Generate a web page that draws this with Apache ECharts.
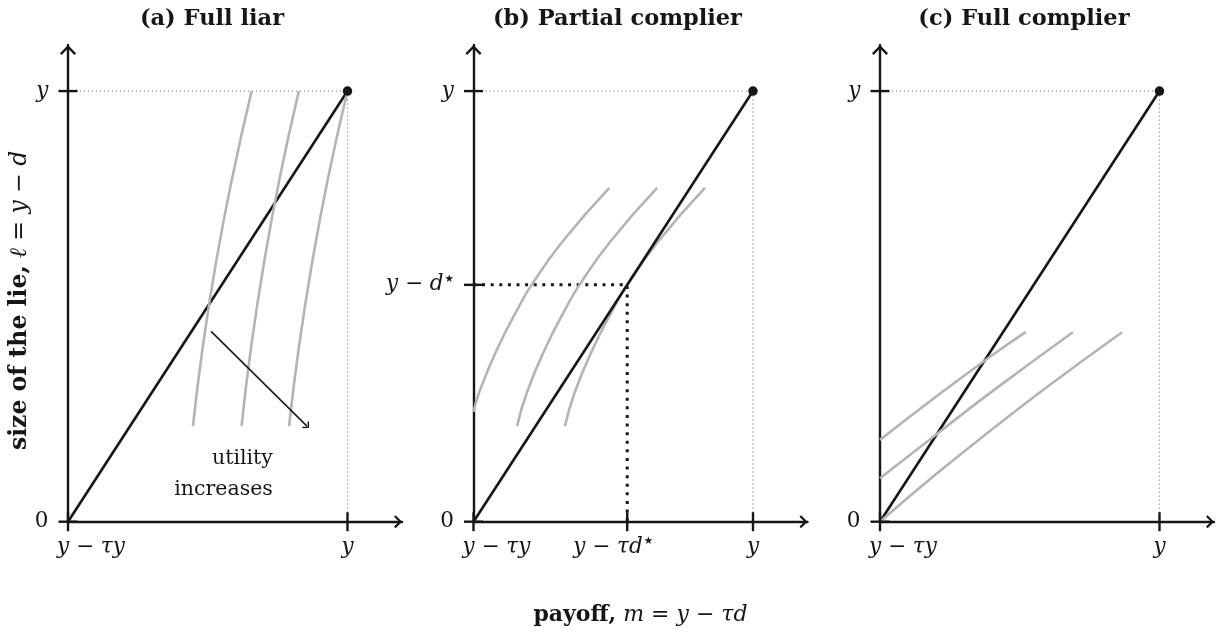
<!DOCTYPE html>
<html>
<head>
<meta charset="utf-8">
<script src="https://cdn.jsdelivr.net/npm/echarts@6/dist/echarts.min.js"></script>
<style>
  html, body { margin: 0; padding: 0; background: #fff; }
  #chart { width: 1221px; height: 633px; }
</style>
</head>
<body>
<div id="chart"></div>
<script>
// Payoff m on the x axis (0 = y − τy, 1 = y); size of the lie ℓ on the y axis (0 … y)
const panelTitles = ['(a) Full liar', '(b) Partial complier', '(c) Full complier'];

// Budget line: every unit of lie moves payoff one-for-one, ending at full report point (y, y)
const budgetLine = [[0, 0], [1, 1]];
const endowment = [1, 1];

// Indifference curves, [payoff, lie] pairs
const liarCurves = [
  [[0.447, 0.222], [0.481, 0.4], [0.529, 0.6], [0.588, 0.8], [0.657, 1.0]],
  [[0.621, 0.222], [0.654, 0.4], [0.701, 0.6], [0.758, 0.8], [0.826, 1.0]],
  [[0.791, 0.222], [0.825, 0.4], [0.873, 0.6], [0.931, 0.8], [1.0, 1.0]]
];
const partialCurves = [
  [[0, 0.255], [0.020, 0.3], [0.084, 0.4], [0.163, 0.5], [0.208, 0.55], [0.318, 0.65], [0.486, 0.775]],
  [[0.156, 0.222], [0.191, 0.3], [0.255, 0.4], [0.334, 0.5], [0.379, 0.55], [0.489, 0.65], [0.657, 0.775]],
  [[0.327, 0.222], [0.362, 0.3], [0.426, 0.4], [0.505, 0.5], [0.550, 0.55], [0.660, 0.65], [0.828, 0.775]]
];
const complierCurves = [
  [[0, 0.190], [0.2, 0.290], [0.4, 0.386], [0.522, 0.441]],
  [[0, 0.101], [0.2, 0.202], [0.4, 0.302], [0.69, 0.440]],
  [[0, 0.0], [0.2, 0.110], [0.4, 0.214], [0.6, 0.314], [0.866, 0.440]]
];
const panelCurves = [liarCurves, partialCurves, complierCurves];

// Interior optimum of the partial complier (y − τd⋆, y − d⋆)
const optimum = [0.55, 0.55];

// "utility increases" direction arrow in panel (a)
const utilityArrow = [[0.512, 0.442], [0.855, 0.222]];
const utilityNote = { pos: [0.733, 0.11], lines: ['utility', 'increases'] };

// Axis ticks and their labels, per panel
const payoffTicks = [[0, 1], [0, 0.55, 1], [0, 1]];
const payoffTickLabels = [['y − τy', 'y'], ['y − τy', 'y − τd⋆', 'y'], ['y − τy', 'y']];
const lieTicks = [[0, 1], [0, 0.55, 1], [0, 1]];
const lieTickLabels = [['0', 'y'], ['0', 'y − d⋆', 'y'], ['0', 'y']];

const xAxisName = '{b|payoff,} {i|m} = {i|y} − {i|τd}';
const yAxisName = '{b|size of the lie,} {i|ℓ} = {i|y} − {i|d}';

// ---- layout & style ----
const X_MAX = 1.195, Y_MAX = 1.107;
const gridLefts = [68, 473.5, 880];
const GRID_TOP = 45, GRID_W = 334, GRID_H = 476.7;
const INK = '#161616', GREY = '#b4b4b4', GUIDE = '#8a8a8a';
const SERIF = 'DejaVu Serif';
const MATH_SIZE = 21.5;

const arrowX = 'path://M6.5 0L13 6.4L11.4 8L6.5 3L1.6 8L0 6.4Z';
const arrowY = 'path://M8 0L16 8.2L14.4 10L8 3.4L1.6 10L0 8.2Z';
const arrowSmall = 'path://M4.5 0L9 4.3L8 5.3L4.5 1.8L1 5.3L0 4.3Z';

const mathRich = {
  i: { fontFamily: SERIF, fontStyle: 'italic', fontSize: MATH_SIZE, color: INK },
  r: { fontFamily: SERIF, fontSize: MATH_SIZE, color: INK },
  s: { fontFamily: 'DejaVu Sans', fontSize: 10.5, color: INK, verticalAlign: 'top', padding: [0, 0, 9, 1] }
};
function tickText(t) {
  if (/^[0-9]+$/.test(t)) return '{r|' + t + '}';
  if (t.indexOf('⋆') >= 0) return '{i|' + t.replace('⋆', '') + '}{s|★}';
  return '{i|' + t + '}';
}

const grids = [], xAxes = [], yAxes = [], series = [], graphics = [];

gridLefts.forEach(function (left, p) {
  grids.push({ left: left, top: GRID_TOP, width: GRID_W, height: GRID_H });
  xAxes.push({
    type: 'value', gridIndex: p, min: 0, max: X_MAX,
    axisLine: { show: true, onZero: false, symbol: ['none', arrowX], symbolSize: [13, 8], symbolOffset: [0, -4],
      lineStyle: { color: INK, width: 2.4 } },
    axisTick: { show: false }, axisLabel: { show: false }, splitLine: { show: false },
    name: p === 1 ? xAxisName : '', nameLocation: 'middle', nameGap: 83,
    nameTextStyle: { fontFamily: SERIF, fontSize: 22, color: INK,
      rich: { b: { fontFamily: SERIF, fontWeight: 'bold', fontSize: 22, color: INK },
              i: { fontFamily: SERIF, fontStyle: 'italic', fontSize: 22, color: INK } } }
  });
  yAxes.push({
    type: 'value', gridIndex: p, min: 0, max: Y_MAX,
    axisLine: { show: true, onZero: false, symbol: ['none', arrowY], symbolSize: [16, 10], symbolOffset: [0, -5],
      lineStyle: { color: INK, width: 2.4 } },
    axisTick: { show: false }, axisLabel: { show: false }, splitLine: { show: false },
    name: p === 0 ? yAxisName : '', nameLocation: 'middle', nameGap: 36, nameRotate: 90,
    nameTextStyle: { fontFamily: SERIF, fontSize: 23.5, color: INK, padding: [0, 34, 0, 0],
      rich: { b: { fontFamily: SERIF, fontWeight: 'bold', fontSize: 23.5, color: INK },
              i: { fontFamily: SERIF, fontStyle: 'italic', fontSize: 23.5, color: INK } } }
  });

  const ax = { xAxisIndex: p, yAxisIndex: p };
  const budget = Object.assign({
    type: 'line', data: budgetLine, symbol: 'none', silent: true,
    lineStyle: { color: INK, width: 2.6 }, z: p === 1 ? 4 : 2
  }, ax);
  if (p === 0) {
    budget.markLine = {
      silent: true, symbol: ['none', arrowSmall], symbolSize: [9.5, 5.6],
      label: { show: false }, lineStyle: { color: INK, width: 1.5, type: 'solid', opacity: 1 },
      data: [[{ coord: utilityArrow[0] }, { coord: utilityArrow[1] }]]
    };
  }
  series.push(budget);

  panelCurves[p].forEach(function (c) {
    series.push(Object.assign({
      type: 'line', data: c, smooth: true, symbol: 'none', silent: true,
      lineStyle: { color: GREY, width: 2.6 }, z: 3
    }, ax));
  });

  // thin guides from the full-report point back to both axes
  series.push(Object.assign({
    type: 'line', data: [[0, endowment[1]], endowment, [endowment[0], 0]], symbol: 'none', silent: true,
    lineStyle: { color: GUIDE, width: 1.1, type: [1.1, 2.9] }, z: 1
  }, ax));

  if (p === 1) {
    series.push(Object.assign({
      type: 'line', data: [[0, optimum[1]], optimum, [optimum[0], 0]], symbol: 'none', silent: true,
      lineStyle: { color: INK, width: 3, type: [3, 5.6] }, z: 1
    }, ax));
  }

  series.push(Object.assign({
    type: 'scatter', data: [endowment], symbol: 'circle', symbolSize: 9.5, silent: true,
    itemStyle: { color: INK, opacity: 1 }, z: 6
  }, ax));

  // payoff ticks straddle the x axis
  series.push(Object.assign({
    type: 'scatter', symbol: 'rect', symbolSize: [2.4, 19], silent: true, itemStyle: { color: INK, opacity: 1 }, z: 5,
    data: payoffTicks[p].map(function (v, k) {
      const item = { value: [v, 0], name: payoffTickLabels[p][k] };
      if (v === 0) item.label = { align: 'left', offset: [-11, 0] };
      else if (k === 1 && p === 1) item.label = { offset: [-14, 0] };
      return item;
    }),
    label: { show: true, position: 'bottom', distance: 5, color: INK, opacity: 1,
      formatter: function (d) { return tickText(d.name); }, rich: mathRich }
  }, ax));

  // lie ticks straddle the y axis
  series.push(Object.assign({
    type: 'scatter', symbol: 'rect', symbolSize: [19, 2.4], silent: true, itemStyle: { color: INK, opacity: 1 }, z: 5,
    data: lieTicks[p].map(function (v, k) { return { value: [0, v], name: lieTickLabels[p][k] }; }),
    label: { show: true, position: 'left', distance: 10, color: INK, opacity: 1,
      formatter: function (d) { return tickText(d.name); }, rich: mathRich }
  }, ax));

  graphics.push({
    type: 'text', x: left + 0.515 * GRID_W / X_MAX, y: 19,
    style: { text: panelTitles[p], fontFamily: SERIF, fontWeight: 'bold', fontSize: 22.5, fill: INK,
      align: 'center', verticalAlign: 'middle' }
  });
});

// annotation for the utility arrow
series.push({
  type: 'scatter', xAxisIndex: 0, yAxisIndex: 0, data: [utilityNote.pos], symbolSize: 0, silent: true,
  itemStyle: { opacity: 1 },
  label: { show: true, position: 'left', distance: 0, align: 'right', verticalAlign: 'middle', opacity: 1,
    formatter: utilityNote.lines.join('\n'), fontFamily: SERIF, fontSize: 20.5, lineHeight: 31, color: INK }
});

const chart = echarts.init(document.getElementById('chart'), null, { renderer: 'canvas' });
chart.setOption({
  backgroundColor: '#fff',
  animation: false,
  grid: grids, xAxis: xAxes, yAxis: yAxes,
  series: series,
  graphic: graphics
});
</script>
</body>
</html>
